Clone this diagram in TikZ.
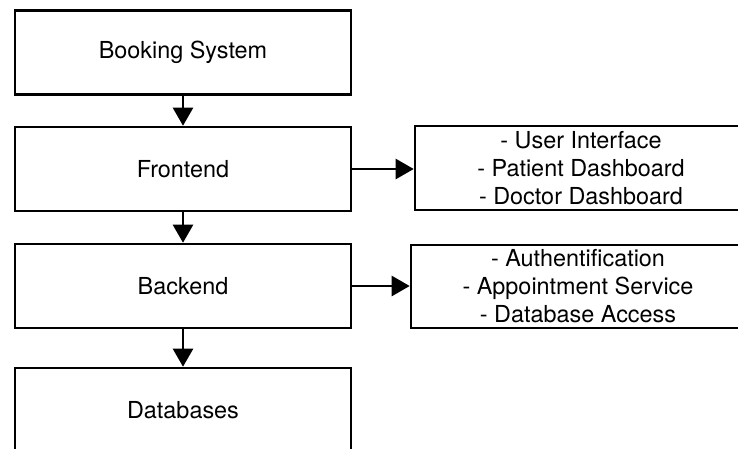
\documentclass[tikz,border=0pt]{standalone}
\usepackage{fontspec}
\setmainfont{TeX Gyre Heros}
\usetikzlibrary{arrows.meta}
\begin{document}
\begin{tikzpicture}[x=1pt,y=-1pt,
  box/.style={draw,line width=2.6pt,inner sep=0pt,font=\fontsize{23.4}{28}\selectfont,align=center},
  mainbox/.style={box,minimum width=336pt,minimum height=84pt},
  sidebox/.style={box,minimum height=84pt},
  conn/.style={line width=2.6pt,-{Triangle[width=20pt,length=18pt]}}]
\useasboundingbox (0,0) rectangle (738,448);
\clip (0,0) rectangle (738,448);
\node[mainbox] (bs) at (183,52.5) {Booking System};
\node[mainbox] (fe) at (183,169) {Frontend};
\node[mainbox] (be) at (183,286) {Backend};
\node[mainbox] (db) at (183,410) {Databases};
\node[sidebox,minimum width=332pt] (r1) at (581,168) {- User Interface\\- Patient Dashboard\\- Doctor Dashboard};
\node[sidebox,minimum width=334pt,minimum height=83pt] (r2) at (578,286.5) {- Authentification\\- Appointment Service\\- Database Access};
\draw[conn] (bs) -- (fe);
\draw[conn] (fe) -- (be);
\draw[conn] (be) -- (db);
\draw[conn] (fe.east) -- (fe.east -| r1.west);
\draw[conn] (be.east) -- (be.east -| r2.west);
\end{tikzpicture}
\end{document}
